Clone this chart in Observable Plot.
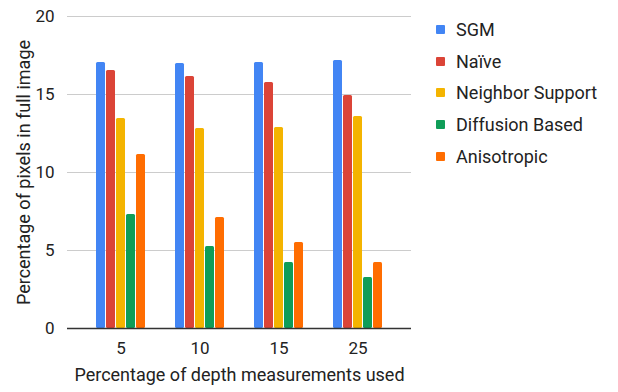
<!DOCTYPE html>
<html>
<head>
<meta charset="utf-8">
<script src="https://cdn.jsdelivr.net/npm/d3@7"></script>
<script src="https://cdn.jsdelivr.net/npm/@observablehq/plot@0.6"></script>
<style>
  html, body { margin: 0; padding: 0; background: #fff; }
  #wrap { position: relative; width: 618px; height: 392px; font-family: Roboto, sans-serif; }
  #wrap > svg { position: absolute; left: 0; top: 0; }
  #legend { position: absolute; left: 436px; top: 0; font-family: Roboto, sans-serif; font-size: 18px; color: #222; }
  #legend .row { position: absolute; left: 0; white-space: nowrap; display: flex; align-items: center; height: 22px; }
  #legend .sw { width: 9px; height: 9px; border-radius: 1px; margin-right: 11px; }
</style>
</head>
<body>
<div id="wrap"></div>
<script>
const categories = ["5", "10", "15", "25"];
const series = ["SGM", "Naïve", "Neighbor Support", "Diffusion Based", "Anisotropic"];
const colors = ["#4285F4", "#DB4437", "#F4B400", "#0F9D58", "#FF6D01"];
const sgm = [17.05, 16.99, 17.05, 17.18];
const naive = [16.54, 16.15, 15.77, 14.94];
const neighborSupport = [13.46, 12.82, 12.88, 13.59];
const diffusionBased = [7.31, 5.26, 4.23, 3.27];
const anisotropic = [11.15, 7.12, 5.51, 4.23];
const yTicks = [0, 5, 10, 15, 20];
const xTitle = "Percentage of depth measurements used";
const yTitle = "Percentage of pixels in full image";

const seriesValues = [sgm, naive, neighborSupport, diffusionBased, anisotropic];
const data = [];
categories.forEach((c, i) => {
  series.forEach((s, j) => data.push({category: c, series: s, value: seriesValues[j][i]}));
});

const W = 618, H = 392;
const margins = {marginLeft: 67, marginRight: 207, marginTop: 16, marginBottom: 64};
const font = {fontFamily: "Roboto, sans-serif", fontSize: "17px", color: "#222", background: "transparent", overflow: "visible"};

// Background layer: grid, y axis and y title
const back = Plot.plot({
  width: W, height: H, ...margins,
  style: font,
  x: {domain: [0, 1], axis: null},
  y: {domain: [0, 20], ticks: yTicks, tickSize: 0, tickPadding: 13, label: null},
  marks: [
    Plot.ruleY(yTicks.filter(d => d > 0), {stroke: "#cccccc", strokeWidth: 1}),
    Plot.text([yTitle], {
      frameAnchor: "left", dx: -43, rotate: -90, text: d => d,
      textAnchor: "middle", lineAnchor: "middle",
      fontSize: 18, fill: "#222"
    })
  ]
});

// Foreground layer: bars and x axis
const front = Plot.plot({
  width: W, height: H, ...margins,
  style: font,
  fx: {domain: categories, paddingInner: 0.38, paddingOuter: 0.367, axis: "bottom",
       tickSize: 0, tickPadding: 13, label: null},
  x: {domain: series, paddingInner: 0.1, paddingOuter: 0, axis: null},
  y: {domain: [0, 20], axis: null},
  color: {domain: series, range: colors},
  marks: [
    Plot.barY(data, {fx: "category", x: "series", y: "value", fill: "series", rx: 1.5})
  ]
});

// Overlay: baseline and x title
const over = Plot.plot({
  width: W, height: H, ...margins,
  style: font,
  x: {domain: [0, 1], axis: null},
  y: {domain: [0, 20], axis: null},
  marks: [
    Plot.ruleY([0], {stroke: "#333333", strokeWidth: 1.5}),
    Plot.text([xTitle], {frameAnchor: "bottom", dy: 47, lineAnchor: "middle",
      text: d => d, fontSize: 18, fill: "#222"})
  ]
});

const wrap = document.getElementById("wrap");
wrap.appendChild(back);
wrap.appendChild(front);
wrap.appendChild(over);

const legend = document.createElement("div");
legend.id = "legend";
const rowCenters = [29, 61, 92, 124, 156];
series.forEach((s, i) => {
  const row = document.createElement("div");
  row.className = "row";
  row.style.top = (rowCenters[i] - 11) + "px";
  const sw = document.createElement("div");
  sw.className = "sw";
  sw.style.background = colors[i];
  const t = document.createElement("span");
  t.textContent = s;
  row.appendChild(sw);
  row.appendChild(t);
  legend.appendChild(row);
});
wrap.appendChild(legend);
</script>
</body>
</html>
